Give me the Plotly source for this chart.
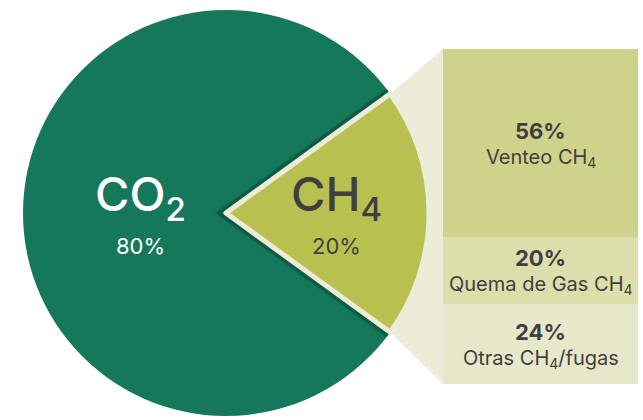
import plotly.graph_objects as go
import math

# ---- data ----
pie_labels = ["CO<sub>2</sub>", "CH<sub>4</sub>"]
pie_values = [80, 20]
pie_colors = ["#15785A", "#B8C14F"]

bar_labels = ["Otras CH<sub>4</sub>/fugas", "Quema de Gas CH<sub>4</sub>", "Venteo CH<sub>4</sub>"]
bar_values = [24, 20, 56]
bar_colors = ["#E7E8C9", "#DCDEAC", "#CFD28B"]

W, H = 643, 420
CREAM = "#ECECD8"
TXT = "#3F3F3F"
FONT = "Inter"

# pie geometry (pixels)
cx, cy, r = 226, 213, 203
# bar geometry (pixels)
bx0, bx1, by0, by1 = 443, 638, 49, 384

fig = go.Figure()

# CH4 slice spans +/- half its share around 3 o'clock
ch4_half = pie_values[1] / sum(pie_values) * 360 / 2
fig.add_trace(go.Pie(
    labels=pie_labels, values=pie_values, sort=False,
    direction="counterclockwise", rotation=90 + ch4_half,
    marker=dict(colors=pie_colors, line=dict(color=[pie_colors[0], CREAM], width=[0, 5])),
    textinfo="none", hoverinfo="label+percent", showlegend=False,
    domain=dict(x=[(cx - r) / W, (cx + r) / W], y=[1 - (cy + r) / H, 1 - (cy - r) / H]),
))

for lab, val, col in zip(bar_labels, bar_values, bar_colors):
    fig.add_trace(go.Bar(x=[0], y=[val], name=lab, marker=dict(color=col, line=dict(width=0)),
                         width=1, showlegend=False, hoverinfo="name+y"))

def P(x, y):
    return f"{x / W:.5f},{1 - y / H:.5f}"

# connector between slice and bar
a = math.radians(ch4_half)
px_top = (cx + r * math.cos(a), cy - r * math.sin(a))
px_bot = (cx + r * math.cos(a), cy + r * math.sin(a))
path = (f"M {P(*px_top)} L {P(bx0, by0)} L {P(bx0, by1)} L {P(*px_bot)} "
        f"L {P(cx + r * 0.9, cy)} Z")
fig.add_shape(type="path", path=path, xref="paper", yref="paper",
              fillcolor=CREAM, line=dict(width=0), layer="below")

# soft shadow along the slice edges (on the CO2 side)
for d, alpha in [(4.0, 0.30), (5.5, 0.15)]:
    sx, sy = math.sin(a) * d, math.cos(a) * d
    t = (px_top[0] - sx, px_top[1] - sy)
    b = (px_bot[0] - sx, px_bot[1] + sy)
    ap = (cx - d / math.sin(a), cy)
    fig.add_shape(type="path", path=f"M {P(*t)} L {P(*ap)} L {P(*b)}",
                  xref="paper", yref="paper",
                  line=dict(color=f"rgba(0,30,20,{alpha})", width=2.5), layer="above")

annotations = []
big = dict(family=FONT, size=47, weight=500)
small = dict(family=FONT, size=22)
# pie labels
for txt, col, x in [("CO<sub><span style='font-size:33px'>2</span></sub>", "white", 140),
                    ("CH<sub><span style='font-size:33px'>4</span></sub>", TXT, 336)]:
    annotations.append(dict(x=x / W, y=1 - 197 / H, xref="paper", yref="paper",
                            xanchor="center", yanchor="middle",
                            text=txt, showarrow=False, font=dict(**big, color=col)))
for val, col, x in [(pie_values[0], "white", 140), (pie_values[1], TXT, 336)]:
    annotations.append(dict(x=x / W, y=1 - 246 / H, xref="paper", yref="paper",
                            xanchor="center", yanchor="middle",
                            text=f"{val}%", showarrow=False, font=dict(**small, color=col)))
# bar labels
cum = 0
for lab, val in zip(bar_labels, bar_values):
    mid = cum + val / 2
    cum += val
    annotations.append(dict(x=0, y=mid, xref="x", yref="y", showarrow=False,
                            xanchor="center", yanchor="middle", yshift=12,
                            text=f"<b>{val}%</b>",
                            font=dict(family=FONT, size=22, color=TXT)))
    annotations.append(dict(x=0, y=mid, xref="x", yref="y", showarrow=False,
                            xanchor="center", yanchor="middle", yshift=-15,
                            text=lab,
                            font=dict(family=FONT, size=20, color=TXT)))

fig.update_layout(
    width=W, height=H, margin=dict(l=0, r=0, t=0, b=0),
    paper_bgcolor="white", plot_bgcolor="rgba(0,0,0,0)",
    barmode="stack", bargap=0,
    xaxis=dict(domain=[bx0 / W, bx1 / W], range=[-0.5, 0.5], visible=False, fixedrange=True),
    yaxis=dict(domain=[1 - by1 / H, 1 - by0 / H], range=[0, 100], visible=False, fixedrange=True),
    annotations=annotations,
)

fig.write_html("out.html", config={"displayModeBar": False},
               post_script="document.body.style.margin='0';document.body.style.overflow='hidden';")
